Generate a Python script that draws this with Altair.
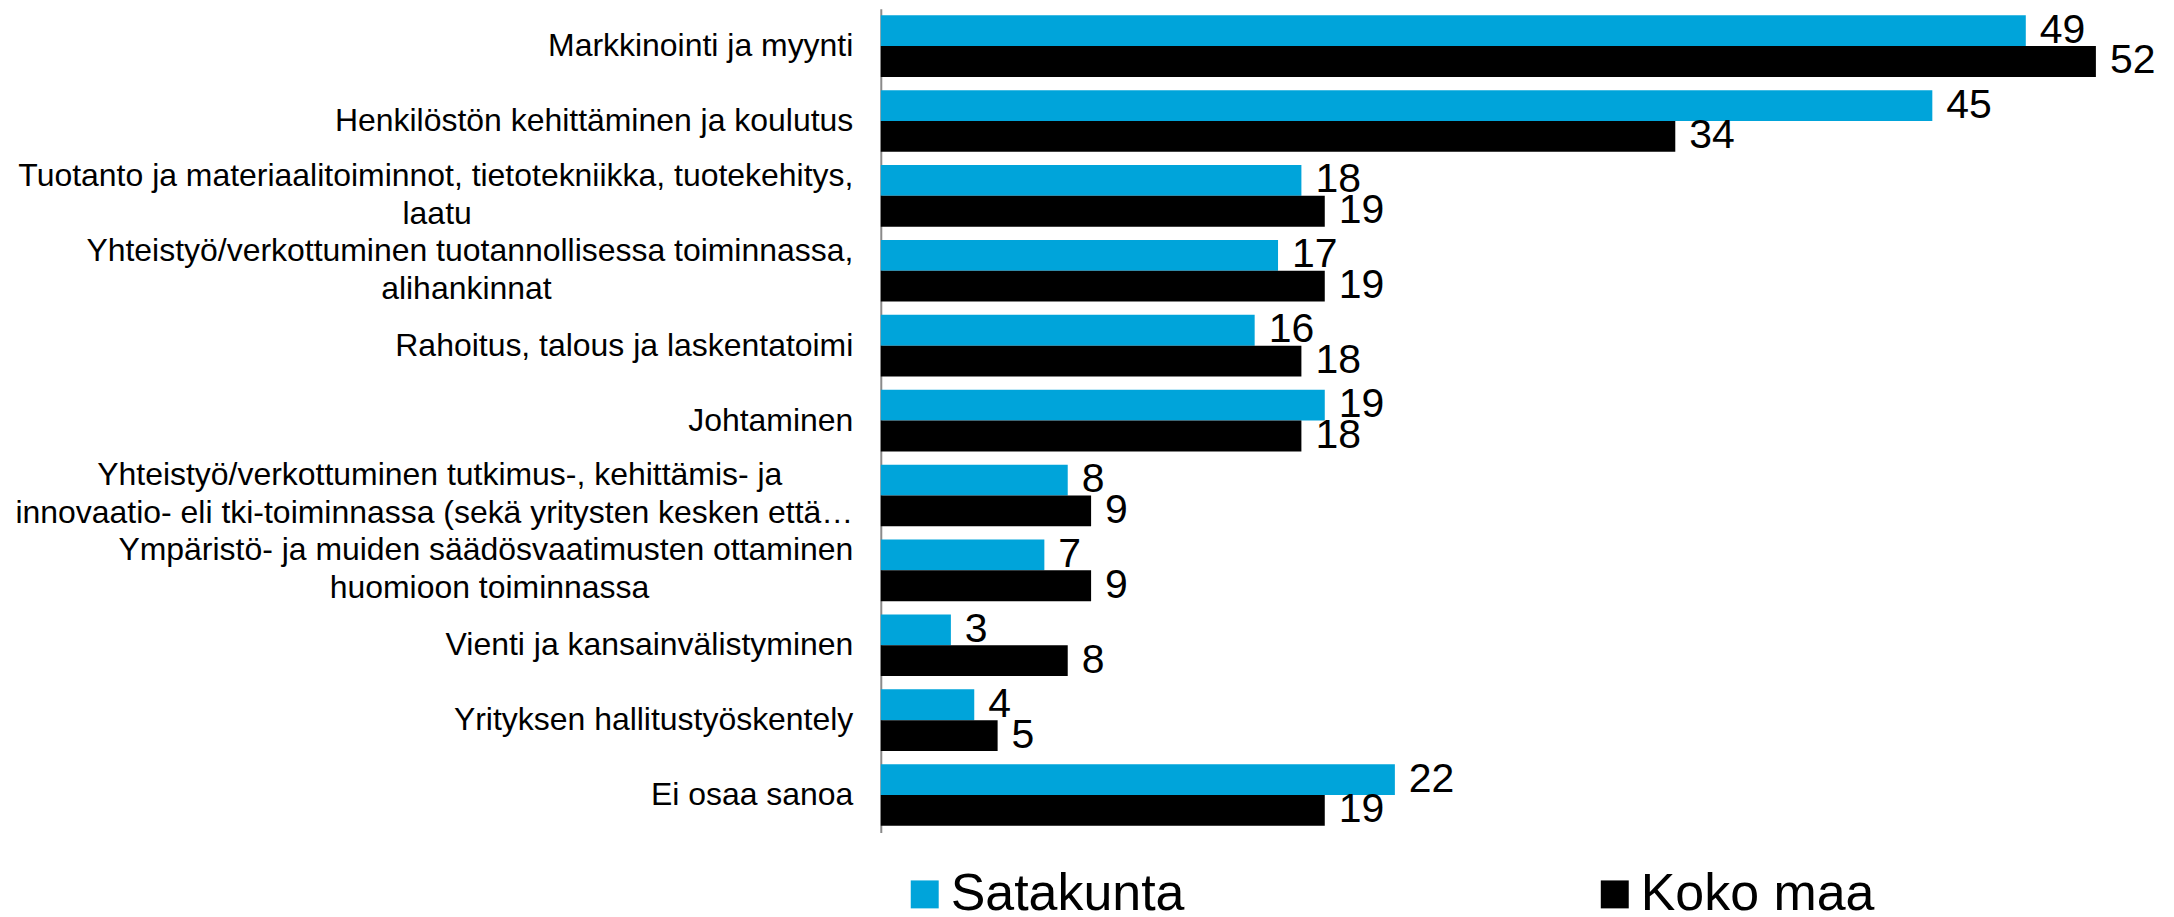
import altair as alt
import pandas as pd

NBSP = "\u00a0"
WJ = "\u2060"  # word joiner keeps trailing no-break spaces from being trimmed
FONT = "Liberation Sans"

categories = [
    "Markkinointi ja myynti",
    "Henkilöstön kehittäminen ja koulutus",
    "Tuotanto ja materiaalitoiminnot, tietotekniikka, tuotekehitys,\nlaatu",
    "Yhteistyö/verkottuminen tuotannollisessa toiminnassa,\nalihankinnat",
    "Rahoitus, talous ja laskentatoimi",
    "Johtaminen",
    "Yhteistyö/verkottuminen tutkimus-, kehittämis- ja\ninnovaatio- eli tki-toiminnassa (sekä yritysten kesken että…",
    "Ympäristö- ja muiden säädösvaatimusten ottaminen\nhuomioon toiminnassa",
    "Vienti ja kansainvälistyminen",
    "Yrityksen hallitustyöskentely",
    "Ei osaa sanoa",
]
series = ["Satakunta", "Koko maa"]
satakunta = [49, 45, 18, 17, 16, 19, 8, 7, 3, 4, 22]
koko_maa = [52, 34, 19, 19, 18, 18, 9, 9, 8, 5, 19]
colors = ["#00A4DA", "#000000"]

# trailing no-break spaces per line so the shorter line sits centred under the longer one
line_pad = {2: [0, 43], 3: [0, 34], 6: [8, 0], 7: [0, 23]}

labels = []
for i, c in enumerate(categories):
    lines = c.split("\n")
    pads = line_pad.get(i, [0] * len(lines))
    labels.append("\n".join(l + (NBSP * p + WJ if p else "") for l, p in zip(lines, pads)))

rows = []
for lab, a, b in zip(labels, satakunta, koko_maa):
    rows.append({"cat": lab, "series": series[0], "value": a})
    rows.append({"cat": lab, "series": series[1], "value": b})
df = pd.DataFrame(rows)

x = alt.X("value:Q", scale=alt.Scale(domain=[0, 55], nice=False), axis=None)
y = alt.Y(
    "cat:N",
    sort=labels,
    title=None,
    scale=alt.Scale(paddingInner=0.177, paddingOuter=0.0885),
    axis=alt.Axis(
        labelExpr="split(datum.label, '\\n')",
        labelFontSize=32,
        labelFont=FONT,
        labelColor="#000000",
        labelPadding=28,
        labelLineHeight=38,
        labelLimit=0,
        ticks=False,
        tickSize=0,
        domainColor="#8a8a8a",
        domainWidth=2,
        labelAlign="right",
        labelBaseline={
            "condition": {"test": "indexof(datum.value, '\\n') >= 0", "value": "line-bottom"},
            "value": "middle",
        },
    ),
)
yoff = alt.YOffset("series:N", sort=series, scale=alt.Scale(paddingInner=0, paddingOuter=0))

bars = alt.Chart(df).mark_bar().encode(
    x=x,
    y=y,
    yOffset=yoff,
    color=alt.Color(
        "series:N",
        sort=series,
        scale=alt.Scale(domain=series, range=colors),
        legend=alt.Legend(
            orient="none",
            legendX=18,
            legendY=861,
            direction="horizontal",
            title=None,
            symbolType="square",
            symbolSize=784,
            symbolStrokeWidth=0,
            labelFontSize=52,
            labelFont=FONT,
            labelColor="#000000",
            labelOffset=0,
            columnPadding=404,
            padding=0,
            labelLimit=0,
        ),
    ),
)

text = alt.Chart(df).mark_text(
    align="left", baseline="middle", dx=14, fontSize=41, font=FONT, color="#000000"
).encode(x=x, y=y, yOffset=yoff, text="value:Q")

chart = (
    alt.layer(bars, text)
    .properties(
        width=1287,
        height=825,
        padding={"left": 874, "top": 0, "right": 0, "bottom": 84},
        autosize=alt.AutoSizeParams(type="none"),
    )
    .configure_view(stroke=None)
)

chart.save("out.html", embed_options={"renderer": "svg", "actions": False})
